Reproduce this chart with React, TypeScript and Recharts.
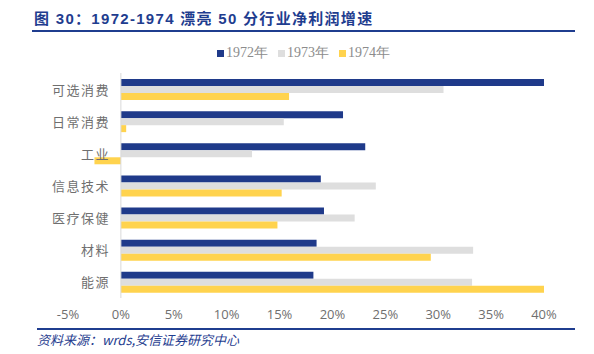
import { BarChart, Bar, XAxis, YAxis, ReferenceLine, Legend } from 'recharts';

const categories = ['可选消费', '日常消费', '工业', '信息技术', '医疗保健', '材料', '能源'];
const growth1972 = [40.0, 21.0, 23.1, 18.9, 19.2, 18.5, 18.2];
const growth1973 = [30.5, 15.4, 12.4, 24.1, 22.1, 33.3, 33.2];
const growth1974 = [15.9, 0.5, -2.5, 15.2, 14.8, 29.3, 40.0];
const xTicks = [-5, 0, 5, 10, 15, 20, 25, 30, 35, 40];

const SERIES = [
  { key: '1972年', color: '#1f3a8a' },
  { key: '1973年', color: '#dedede' },
  { key: '1974年', color: '#ffd34e' },
];

const BLUE = '#1f3d8f';

function CategoryTick({ x, y, payload }: any) {
  return (
    <text x={x + 50} y={y} textAnchor="end" dominantBaseline="central"
      fill="#6f6f6f" fontSize={13} fontFamily='"Noto Sans CJK SC", sans-serif' letterSpacing={1.5}>
      {payload.value}
    </text>
  );
}

function LegendBox() {
  return (
    <div style={{ display: 'flex', gap: 10, fontFamily: '"Liberation Serif", serif', fontSize: 14, color: '#8c8c8c' }}>
      {SERIES.map(s => (
        <span key={s.key} style={{ display: 'flex', alignItems: 'center' }}>
          <span style={{ width: 7, height: 7, background: s.color, display: 'inline-block', marginRight: 2 }} />
          {s.key}
        </span>
      ))}
    </div>
  );
}

export default function App() {
  const data = categories.map((c, i) => ({
    name: c,
    '1972年': growth1972[i],
    '1973年': growth1973[i],
    '1974年': growth1974[i],
  }));

  return (
    <div style={{ position: 'absolute', left: 0, top: 0, width: 594, height: 354, background: '#fff' }}>
      <div style={{
        position: 'absolute', left: 34, top: 7, fontSize: 15, fontWeight: 'bold', color: BLUE,
        fontFamily: '"Liberation Sans", "Noto Sans CJK SC", sans-serif', whiteSpace: 'nowrap', letterSpacing: 1.3,
      }}>
        图 30：1972-1974 漂亮 50 分行业净利润增速
      </div>
      <div style={{ position: 'absolute', left: 32, top: 30, width: 543, height: 2, background: BLUE }} />

      <div style={{ position: 'absolute', left: 0, top: 0 }}>
        <BarChart width={594} height={354} data={data} layout="vertical"
          margin={{ top: 55, right: 50, bottom: 26, left: 0 }} barGap={0}>
          <XAxis type="number" domain={[-5, 40]} ticks={xTicks} tickFormatter={(v) => `${v}%`}
            axisLine={false} tickLine={false} tickMargin={6} height={30} interval={0}
            tick={{ fill: '#6f6f6f', fontSize: 13, fontFamily: '"Open Sans", sans-serif' }} />
          <YAxis type="category" dataKey="name" width={68} axisLine={false} tickLine={false}
            tick={<CategoryTick />} interval={0} />
          <ReferenceLine x={0} stroke="#d9d9d9" strokeWidth={1} />
          <Legend verticalAlign="top" content={<LegendBox />}
            wrapperStyle={{ position: 'absolute', top: 44, left: 217, width: 'auto' }} />
          {SERIES.map(s => (
            <Bar key={s.key} dataKey={s.key} fill={s.color} barSize={7} isAnimationActive={false} />
          ))}
        </BarChart>
      </div>

      <div style={{ position: 'absolute', left: 37, top: 328, width: 538, height: 2, background: BLUE }} />
      <div style={{
        position: 'absolute', left: 37, top: 330, fontSize: 13, fontStyle: 'italic', color: BLUE,
        fontFamily: '"Noto Sans CJK SC", sans-serif', whiteSpace: 'nowrap',
      }}>
        资料来源：wrds,安信证券研究中心
      </div>
    </div>
  );
}
